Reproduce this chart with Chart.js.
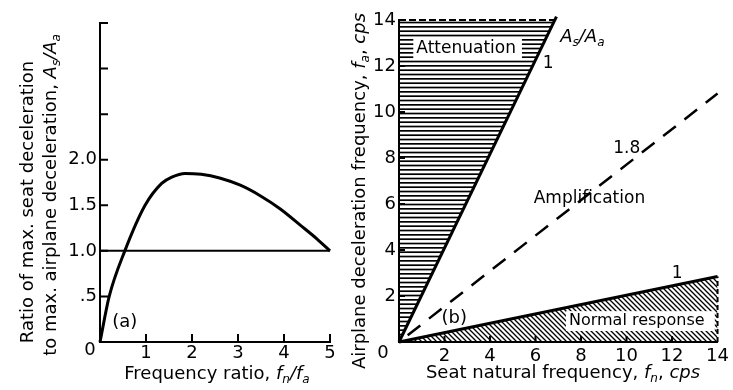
<!DOCTYPE html>
<html>
<head>
<meta charset="utf-8">
<script src="https://cdn.jsdelivr.net/npm/chart.js@4/dist/chart.umd.min.js"></script>
<style>
  html, body { margin: 0; padding: 0; background: #fff; }
  #wrap { position: relative; width: 733px; height: 390px; overflow: hidden; background: #fff; }
  .panel { position: absolute; top: 0; }
</style>
</head>
<body>
<div id="wrap">
  <div class="panel" style="left:0;width:372px;height:390px"><canvas id="chartA" width="372" height="390"></canvas></div>
  <div class="panel" style="left:340px;width:393px;height:390px"><canvas id="chartB" width="393" height="390"></canvas></div>
</div>
<script>
// ---- (a) peak seat/airplane deceleration ratio against frequency ratio ----
const ratioX = [0, 0.2, 0.54, 0.98, 1.34, 1.56, 1.85, 2.2, 2.6, 3.05, 3.5, 3.92, 4.36, 4.72, 5.0];
const ratioY = [0, 0.5, 1.0, 1.5, 1.74, 1.81, 1.85, 1.84, 1.80, 1.72, 1.60, 1.46, 1.28, 1.13, 1.0];
const unityX = [0, 5];
const unityY = [1, 1];
const ratioTickLabels = { 0.5: '.5', 1: '1.0', 1.5: '1.5', 2: '2.0' };

// ---- (b) regions in the seat-frequency / airplane-frequency plane ----
const upperFn = [0, 6.92];   const upperFa = [0, 14.15];  // A_s/A_a = 1, attenuation edge
const ampFn   = [0, 14];     const ampFa   = [0, 10.8];   // A_s/A_a = 1.8
const lowerFn = [0, 14];     const lowerFa = [0, 2.85];   // A_s/A_a = 1, normal-response edge
const attenFn  = [0, 6.85, 0, 0];   const attenFa  = [0, 14, 14, 0];
const normalFn = [0, 14, 14, 0];    const normalFa = [0, 2.85, 0, 0];
const attenTopFn = [0, 6.85];       const attenTopFa = [14, 14];
const normalEdgeFn = [14, 14];      const normalEdgeFa = [0, 2.85];

const FONT = 'DejaVu Sans';
Chart.defaults.font.family = FONT;
Chart.defaults.color = '#000';

const pts = (xs, ys) => xs.map((x, i) => ({ x, y: ys[i] }));

function horizontalHatch() {
  const c = document.createElement('canvas');
  c.width = 8; c.height = 13;
  const g = c.getContext('2d');
  g.fillStyle = '#000';
  for (let k = 0; k < 3; k++) g.fillRect(0, k * 13 / 3, 8, 1.7);
  return g.createPattern(c, 'repeat');
}
function diagonalHatch() {
  const s = 5;
  const c = document.createElement('canvas');
  c.width = s; c.height = s;
  const g = c.getContext('2d');
  g.strokeStyle = '#000'; g.lineWidth = 1.3;
  g.beginPath();
  g.moveTo(-1, -1); g.lineTo(s + 1, s + 1);
  g.moveTo(-1, s - 1); g.lineTo(1, s + 1);
  g.moveTo(s - 1, -1); g.lineTo(s + 1, 1);
  g.stroke();
  return g.createPattern(c, 'repeat');
}

// Text made of runs: '' upright, 'i' italic, 'is' italic subscript
function drawRich(ctx, runs, x, y, size, rot) {
  ctx.save();
  ctx.translate(x, y);
  ctx.rotate(rot || 0);
  ctx.textBaseline = 'middle';
  ctx.textAlign = 'left';
  ctx.fillStyle = '#000';
  const fontOf = st => st === 'is' ? `italic ${Math.round(size * 0.68)}px ${FONT}`
                    : st === 'i' ? `italic ${size}px ${FONT}` : `${size}px ${FONT}`;
  let total = 0;
  runs.forEach(([t, st]) => { ctx.font = fontOf(st); total += ctx.measureText(t).width; });
  let cx = -total / 2;
  runs.forEach(([t, st]) => {
    ctx.font = fontOf(st);
    ctx.fillText(t, cx, st === 'is' ? size * 0.3 : 0);
    cx += ctx.measureText(t).width;
  });
  ctx.restore();
}

// Short tick marks drawn inward from both axes
const innerTicks = {
  id: 'innerTicks',
  afterDraw(chart, args, opts) {
    const { ctx, scales: { x, y } } = chart;
    ctx.save();
    ctx.strokeStyle = '#000';
    ctx.lineWidth = opts.width || 2;
    ctx.beginPath();
    opts.xTicks.forEach(v => {
      const px = x.getPixelForValue(v);
      ctx.moveTo(px, y.bottom); ctx.lineTo(px, y.bottom - opts.len);
    });
    opts.yTicks.forEach(v => {
      const py = y.getPixelForValue(v);
      ctx.moveTo(x.left, py); ctx.lineTo(x.left + opts.len, py);
    });
    ctx.stroke();
    ctx.restore();
  }
};

// Titles, corner zero and in-plot notes
const annotations = {
  id: 'annotations',
  afterDatasetsDraw(chart, args, opts) {
    const { ctx, scales: { x, y } } = chart;
    ctx.save();
    (opts.boxes || []).forEach(b => {
      ctx.font = `${b.size}px ${FONT}`;
      const w = ctx.measureText(b.text).width;
      const cx = x.getPixelForValue(b.x), cy = y.getPixelForValue(b.y);
      const left = cx - w / 2 - b.padL;
      const right = b.rightX !== undefined ? x.getPixelForValue(b.rightX) : cx + w / 2 + b.padR;
      ctx.fillStyle = '#fff';
      ctx.fillRect(left, cy - b.size * 0.62, right - left, b.size * 1.24);
    });
    ctx.restore();
  },
  afterDraw(chart, args, opts) {
    const { ctx, scales: { x, y } } = chart;
    (opts.notes || []).forEach(n => {
      drawRich(ctx, n.runs, x.getPixelForValue(n.x), y.getPixelForValue(n.y), n.size, 0);
    });
    (opts.boxes || []).forEach(b => {
      drawRich(ctx, [[b.text, '']], x.getPixelForValue(b.x), y.getPixelForValue(b.y), b.size, 0);
    });
    (opts.titles || []).forEach(t => drawRich(ctx, t.runs, t.px, t.py, t.size, t.rot));
    drawRich(ctx, [['0', '']], x.left - opts.zeroDx, y.bottom + opts.zeroDy, 18, 0);
  }
};

const axisBase = (min, max, step, cb, padding) => ({
  type: 'linear', min, max,
  grid: { display: false, drawTicks: false },
  border: { display: true, color: '#000', width: 2 },
  ticks: { stepSize: step, callback: cb, padding, font: { size: 18, family: FONT }, color: '#000', autoSkip: false, maxRotation: 0 }
});

// ---------------- chart (a) ----------------
new Chart(document.getElementById('chartA'), {
  type: 'line',
  data: {
    datasets: [
      { data: pts(unityX, unityY), borderColor: '#000', borderWidth: 2, pointRadius: 0, clip: false },
      { data: pts(ratioX, ratioY), borderColor: '#000', borderWidth: 3, pointRadius: 0,
        cubicInterpolationMode: 'monotone', clip: false }
    ]
  },
  options: {
    responsive: false, animation: false,
    layout: { padding: { left: 0, right: 42, top: 23, bottom: 0 } },
    scales: {
      x: Object.assign(axisBase(0, 5, 1, v => v === 0 ? '' : String(v), 1),
        { afterFit: s => { s.height = 48; } }),
      y: Object.assign(axisBase(0, 3.5, 0.5, v => ratioTickLabels[v] || '', 3),
        { afterFit: s => { s.width = 100; } })
    },
    plugins: {
      legend: { display: false }, tooltip: { enabled: false },
      innerTicks: { len: 8, xTicks: [1, 2, 3, 4, 5], yTicks: [0.5, 1, 1.5, 2, 2.5, 3, 3.5] },
      annotations: {
        zeroDx: 10, zeroDy: 8,
        notes: [{ runs: [['(a)', '']], x: 0.54, y: 0.22, size: 18 }],
        titles: [
          { runs: [['Ratio of max. seat deceleration', '']], px: 28, py: 202, size: 18, rot: -Math.PI / 2 },
          { runs: [['to max. airplane deceleration, ', ''], ['A', 'i'], ['s', 'is'], ['/', 'i'], ['A', 'i'], ['a', 'is']],
            px: 51, py: 195, size: 18, rot: -Math.PI / 2 },
          { runs: [['Frequency ratio, ', ''], ['f', 'i'], ['n', 'is'], ['/', 'i'], ['f', 'i'], ['a', 'is']],
            px: 217, py: 374, size: 18, rot: 0 }
        ]
      }
    }
  },
  plugins: [innerTicks, annotations]
});

// ---------------- chart (b) ----------------
new Chart(document.getElementById('chartB'), {
  type: 'line',
  data: {
    datasets: [
      { data: pts(attenFn, attenFa), borderWidth: 0, borderColor: 'rgba(0,0,0,0)', pointRadius: 0,
        fill: 'shape', backgroundColor: horizontalHatch() },
      { data: pts(normalFn, normalFa), borderWidth: 0, borderColor: 'rgba(0,0,0,0)', pointRadius: 0,
        fill: 'shape', backgroundColor: diagonalHatch() },
      { data: pts(attenTopFn, attenTopFa), borderColor: '#000', borderWidth: 2, borderDash: [7, 3], pointRadius: 0, clip: false },
      { data: pts(normalEdgeFn, normalEdgeFa), borderColor: '#000', borderWidth: 2, borderDash: [5, 3], pointRadius: 0, clip: false },
      { data: pts(upperFn, upperFa), borderColor: '#000', borderWidth: 3, pointRadius: 0, clip: false },
      { data: pts(lowerFn, lowerFa), borderColor: '#000', borderWidth: 3, pointRadius: 0, clip: false },
      { data: pts(ampFn, ampFa), borderColor: '#000', borderWidth: 2.5, borderDash: [16, 11], borderDashOffset: 16,
        pointRadius: 0, clip: false }
    ]
  },
  options: {
    responsive: false, animation: false,
    layout: { padding: { left: 0, right: 11, top: 20, bottom: 0 } },
    scales: {
      x: Object.assign(axisBase(0, 14, 2, v => v === 0 ? '' : String(v), 4),
        { afterFit: s => { s.height = 48; } }),
      y: Object.assign(axisBase(0, 14, 2, v => v === 0 ? '' : String(v), 3),
        { afterFit: s => { s.width = 59; } })
    },
    plugins: {
      legend: { display: false }, tooltip: { enabled: false },
      innerTicks: { len: 6, xTicks: [2, 4, 6, 8, 10, 12], yTicks: [2, 4, 6, 8, 10, 12, 14] },
      annotations: {
        zeroDx: 16, zeroDy: 11,
        boxes: [
          { text: 'Attenuation', x: 2.95, y: 12.76, size: 17, padL: 3, padR: 6 },
          { text: 'Normal response', x: 10.45, y: 0.91, size: 16, padL: 3, rightX: 13.88 }
        ],
        notes: [
          { runs: [['A', 'i'], ['s', 'is'], ['/', 'i'], ['A', 'i'], ['a', 'is']], x: 8.06, y: 13.26, size: 18 },
          { runs: [['1', '']], x: 6.55, y: 12.09, size: 17 },
          { runs: [['1.8', '']], x: 10.01, y: 8.39, size: 17 },
          { runs: [['Amplification', '']], x: 8.37, y: 6.22, size: 17 },
          { runs: [['1', '']], x: 12.22, y: 2.96, size: 17 },
          { runs: [['(b)', '']], x: 2.43, y: 1.04, size: 18 }
        ],
        titles: [
          { runs: [['Airplane deceleration frequency, ', ''], ['f', 'i'], ['a', 'is'], [', ', ''], ['cps', 'i']],
            px: 20, py: 191, size: 18, rot: -Math.PI / 2 },
          { runs: [['Seat natural frequency, ', ''], ['f', 'i'], ['n', 'is'], [', ', ''], ['cps', 'i']],
            px: 223, py: 373, size: 18, rot: 0 }
        ]
      }
    }
  },
  plugins: [innerTicks, annotations]
});
</script>
</body>
</html>
